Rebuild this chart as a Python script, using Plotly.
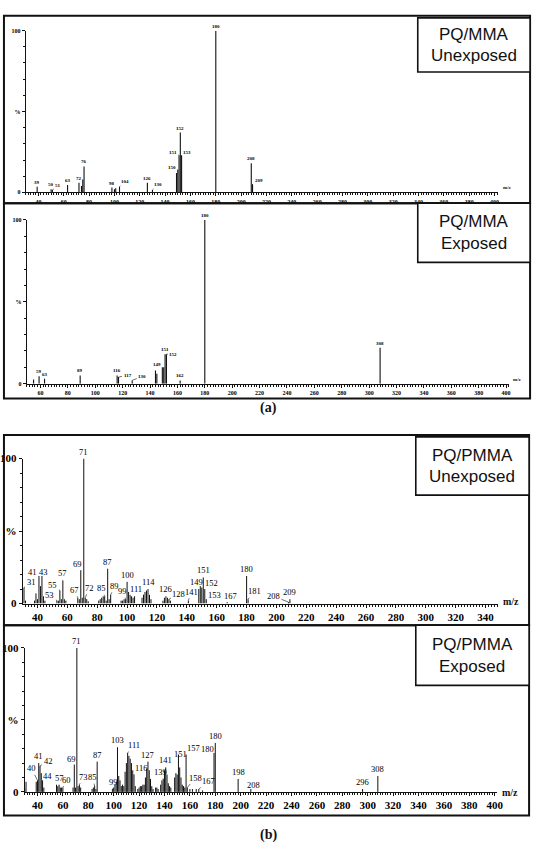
import plotly.graph_objects as go

# ---------------- DATA ----------------
# (a) PQ/MMA unexposed
a1_mz = [39, 50, 51, 63, 72, 74, 75, 76, 98, 100, 101, 104, 126, 130, 149, 150, 151, 152, 153, 180, 208, 209]
a1_int = [3.5, 2.0, 1.5, 4.5, 6, 4, 8, 16, 3, 2, 2.5, 3.5, 6, 1.5, 12, 14, 23, 37, 23, 100, 18, 5]
a1_lab_mz = [39, 50, 51, 63, 72, 76, 98, 104, 126, 130, 150, 151, 152, 153, 180, 208, 209]
a1_lab_txt = ["39", "50", "51", "63", "72", "76", "98", "104", "126", "130", "150", "151", "152", "153", "180", "208", "209"]

# (a) PQ/MMA exposed
a2_mz = [55, 59, 63, 89, 116, 117, 127, 144, 145, 149, 150, 151, 152, 162, 180, 308]
a2_int = [2.5, 4.5, 3, 5, 5, 4, 2, 8, 6, 10, 10, 18, 18, 2, 100, 22]
a2_lab_mz = [59, 63, 89, 116, 117, 127, 149, 151, 152, 162, 180, 308]
a2_lab_txt = ["59", "63", "89", "116", "117", "130", "149", "151", "152", "162", "180", "308"]

# (b) PQ/PMMA unexposed
b1_mz = [29, 30, 31, 32, 38, 39, 40, 41, 42, 43, 44, 45, 53, 54, 55, 56, 57, 58, 59,
         67, 68, 69, 70, 71, 72, 73, 74, 81, 82, 83, 84, 85, 86, 87, 88, 89,
         96, 97, 98, 99, 100, 101, 102, 103, 104, 105, 110, 111, 112, 113, 114, 115, 116,
         124, 125, 126, 127, 128, 129, 141, 148, 149, 150, 151, 152, 153, 167, 180, 181, 208, 209]
b1_int = [3, 4, 11, 2, 2, 7, 3, 19, 12, 19, 5, 2, 2, 2, 9, 3, 16, 3, 2,
          4, 3, 23, 4, 100, 4, 3, 1.5, 2, 3, 4, 5, 5, 2, 24, 3, 6,
          2, 2, 3, 3, 15, 8, 6, 5, 4, 5, 4, 6, 8, 9, 10, 6, 3,
          2, 4, 5, 4, 3, 2, 2, 10, 12, 11, 18, 10, 3, 1, 19, 3, 1, 3]
b1_lab_mz = [31, 41, 43, 53, 55, 57, 67, 69, 71, 72, 85, 87, 89, 99, 100, 111, 114,
             126, 128, 141, 149, 151, 152, 153, 167, 180, 181, 208, 209]
b1_lab_txt = ["31", "41", "43", "53", "55", "57", "67", "69", "71", "72", "85", "87", "89", "99", "100", "111", "114",
              "126", "128", "141", "149", "151", "152", "153", "167", "180", "181", "208", "209"]

# (b) PQ/PMMA exposed
b2_mz = [30, 31, 39, 40, 41, 42, 43, 44, 45, 55, 56, 57, 58, 59, 60,
         68, 69, 70, 71, 72, 73, 74, 83, 84, 85, 86, 87,
         99, 100, 101, 102, 103, 104, 105, 106, 107, 108,
         109, 110, 111, 112, 113, 114, 115, 116, 117,
         119, 120, 121, 122, 123, 124, 125, 126, 127, 128, 129, 130, 131,
         133, 134, 135, 137, 138, 139, 140, 141, 142, 143, 144, 145,
         148, 149, 150, 151, 152, 153, 154, 155, 156, 157, 158,
         160, 162, 165, 167, 170, 179, 180, 198, 208, 296, 308]
b2_int = [2, 7, 7, 8, 20, 18, 13, 8, 3, 5, 4, 5, 3, 3, 3,
          3, 19, 3, 100, 4, 5, 3, 2, 3, 4, 2, 21,
          2, 3, 5, 7, 31, 11, 8, 4, 5, 4,
          14, 20, 27, 25, 23, 20, 15, 12, 4,
          2, 3, 4, 4, 5, 5, 10, 16, 21, 15, 9, 4, 2,
          3, 3, 2, 5, 8, 9, 15, 17, 12, 6, 4, 3,
          10, 13, 12, 26, 17, 10, 5, 4, 3, 26, 3,
          2, 2, 2, 2, 1, 27, 34, 9, 2, 2, 11]
b2_lab_mz = [40, 41, 42, 44, 57, 60, 69, 71, 73, 85, 87, 99, 103, 111, 116, 127, 139, 141,
             151, 157, 158, 167, 179, 180, 198, 208, 296, 308]
b2_lab_txt = ["40", "41", "42", "44", "57", "60", "69", "71", "73", "85", "87", "99", "103", "111", "116", "127", "139", "141",
              "151", "157", "158", "167", "180", "180", "198", "208", "296", "308"]

x_ticks_a = [40, 60, 80, 100, 120, 140, 160, 180, 200, 220, 240, 260, 280, 300, 320, 340, 360, 380, 400]
y_ticks = [0, 50, 100]
y_ticktext = ["0", "%", "100"]
titles = [["PQ/MMA", "Unexposed"], ["PQ/MMA", "Exposed"], ["PQ/PMMA", "Unexposed"], ["PQ/PMMA", "Exposed"]]

# ---------------- LAYOUT / STYLE ----------------
W, H = 542, 860
def fx(p): return p / W
def fy(p): return 1 - p / H

# label offsets in pixels (dx, dy) relative to peak top; (0,0) = directly above
a1_off = [(0, 0), (0, 0), (6, -4), (0, 0), (0, 0), (0, 0), (0, 0), (5, -5), (0, 0), (6, -5),
          (-6, -2), (-6, -3), (0, 0), (5, -3), (0, 0), (0, 0), (6, -4)]
a2_off = [(0, 0), (0, 0), (0, 0), (0, 0), (9, -2), (10, -4), (-5, -3), (0, 0), (7, 0), (0, 0), (0, 0), (0, 0)]
b1_off = [(7, -6), (-6, -4), (2, -4), (-7, -6), (-7, -5), (0, 0), (-3, -8), (-3, -6), (0, 0), (4, -10),
          (-3, -8), (0, 0), (4, -9), (-3, -8), (0, 0), (-8, -6), (0, 0), (0, 0), (10, -5), (3, -9),
          (-4, -4), (0, 0), (7, -6), (8, -4), (3, -6), (0, 0), (6, -8), (-15, -6), (0, 0)]
b2_off = [(-6, -12), (0, 0), (8, -5), (5, -4), (0, 0), (4, -8), (-3, -6), (0, 0), (4, -8), (-2, -9),
          (0, 0), (1, -7), (0, 0), (6, -8), (7, -7), (0, 0), (-3, -7), (0, 0),
          (2, 0), (7, -6), (8, -10), (10, -8), (-7, -4), (0, 0), (0, 0), (3, -4), (0, 0), (0, 0)]

panels = [
    dict(mz=a1_mz, it=a1_int, lm=a1_lab_mz, lt=a1_lab_txt, off=a1_off,
         xd=(25, 504), xr=(29.9, 402.4), yd=(25, 189), small=True,
         box=(3, 10, 537, 200), tbox=(423, 12, 537, 67), mzlab=(514, 184)),
    dict(mz=a2_mz, it=a2_int, lm=a2_lab_mz, lt=a2_lab_txt, off=a2_off,
         xd=(26, 516), xr=(49.9, 402.4), yd=(217, 383), small=True,
         box=(3, 200, 537, 398), tbox=(423, 200, 537, 260), mzlab=(524, 379)),
    dict(mz=b1_mz, it=b1_int, lm=b1_lab_mz, lt=b1_lab_txt, off=b1_off,
         xd=(22, 504), xr=(30.1, 348), yd=(459, 606), small=False,
         box=(3, 435, 536, 628), tbox=(421, 437, 536, 496), mzlab=(518, 604)),
    dict(mz=b2_mz, it=b2_int, lm=b2_lab_mz, lt=b2_lab_txt, off=b2_off,
         xd=(24, 503), xr=(29.9, 401.5), yd=(651, 797), small=False,
         box=(3, 628, 536, 821), tbox=(421, 628, 536, 689), mzlab=(517, 798)),
]

fig = go.Figure()
annotations = []
shapes = []
layout_axes = {}
serif = "Liberation Serif"
sans = "Liberation Sans"

for i, p in enumerate(panels):
    k = "" if i == 0 else str(i + 1)
    xs, ys = [], []
    for m, v in zip(p["mz"], p["it"]):
        xs += [m, m, None]
        ys += [0, v, None]
    fig.add_trace(go.Scatter(x=xs, y=ys, mode="lines", line=dict(color="#111", width=1.1 if p["small"] else 1.0),
                             xaxis="x" + k, yaxis="y" + k, showlegend=False, hoverinfo="skip"))
    tick_font = dict(family=serif, size=6 if p["small"] else 11, color="#000", weight="bold")
    lab_font = dict(family=serif, size=5 if p["small"] else 8.5, color="#000", weight="bold" if p["small"] else "normal")
    layout_axes["xaxis" + k] = dict(
        domain=[fx(p["xd"][0]), fx(p["xd"][1])], range=list(p["xr"]), anchor="y" + k,
        showline=True, linecolor="#111", linewidth=1, showgrid=False, zeroline=False,
        tickmode="array", tickvals=x_ticks_a, ticktext=[str(t) for t in x_ticks_a],
        ticks="outside", ticklen=3, tickcolor="#111", tickfont=tick_font,
        minor=dict(dtick=2, ticklen=2, tickcolor="#111", ticks="outside"),
    )
    layout_axes["yaxis" + k] = dict(
        domain=[fy(p["yd"][1]), fy(p["yd"][0])], range=[0, 100], anchor="x" + k,
        showline=True, linecolor="#111", linewidth=1, showgrid=False, zeroline=False,
        tickmode="array", tickvals=y_ticks, ticktext=y_ticktext,
        ticks="outside", ticklen=3, tickcolor="#111", tickfont=tick_font,
        minor=dict(dtick=10, ticklen=2, tickcolor="#111", ticks="outside"),
    )
    peak = dict(zip(p["mz"], p["it"]))
    for m, t, (dx, dy) in zip(p["lm"], p["lt"], p["off"]):
        v = peak.get(m, 0)
        if dx == 0 and dy == 0:
            annotations.append(dict(x=m, y=v, xref="x" + k, yref="y" + k, text=t, showarrow=False,
                                    yanchor="bottom", xanchor="center", yshift=0, font=lab_font))
        else:
            annotations.append(dict(x=m, y=v, xref="x" + k, yref="y" + k, text=t, showarrow=True,
                                    ax=dx, ay=dy, arrowhead=0, arrowwidth=0.6, arrowcolor="#111",
                                    standoff=0, startstandoff=0, font=lab_font))
    # outer frame
    x0, y0, x1, y1 = p["box"]
    shapes.append(dict(type="rect", xref="paper", yref="paper", x0=fx(x0), x1=fx(x1), y0=fy(y1), y1=fy(y0),
                       line=dict(color="#111", width=2), layer="above"))
    # title box
    x0, y0, x1, y1 = p["tbox"]
    shapes.append(dict(type="rect", xref="paper", yref="paper", x0=fx(x0), x1=fx(x1), y0=fy(y1), y1=fy(y0),
                       line=dict(color="#111", width=1.6), fillcolor="white", layer="above"))
    cx = (x0 + x1) / 2
    cy = (y0 + y1) / 2
    for j, line in enumerate(titles[i]):
        annotations.append(dict(x=fx(cx), y=fy(cy - 11 + 22 * j), xref="paper", yref="paper", text=line,
                                showarrow=False, xanchor="center", yanchor="middle",
                                font=dict(family=sans, size=17, color="#111")))
    mx, my = p["mzlab"]
    annotations.append(dict(x=fx(mx), y=fy(my), xref="paper", yref="paper", text="m/z", showarrow=False,
                            xanchor="center", yanchor="middle",
                            font=dict(family=serif, size=5 if p["small"] else 10, color="#111",
                                      weight="bold")))

annotations.append(dict(x=fx(271), y=fy(408), xref="paper", yref="paper", text="(a)", showarrow=False,
                        xanchor="center", yanchor="middle", font=dict(family=serif, size=14, color="#111", weight="bold")))
annotations.append(dict(x=fx(271), y=fy(841), xref="paper", yref="paper", text="(b)", showarrow=False,
                        xanchor="center", yanchor="middle", font=dict(family=serif, size=14, color="#111", weight="bold")))

fig.update_layout(width=W, height=H, margin=dict(l=0, r=0, t=0, b=0),
                  paper_bgcolor="white", plot_bgcolor="white",
                  annotations=annotations, shapes=shapes, **layout_axes)

fig.write_html("out.html")
